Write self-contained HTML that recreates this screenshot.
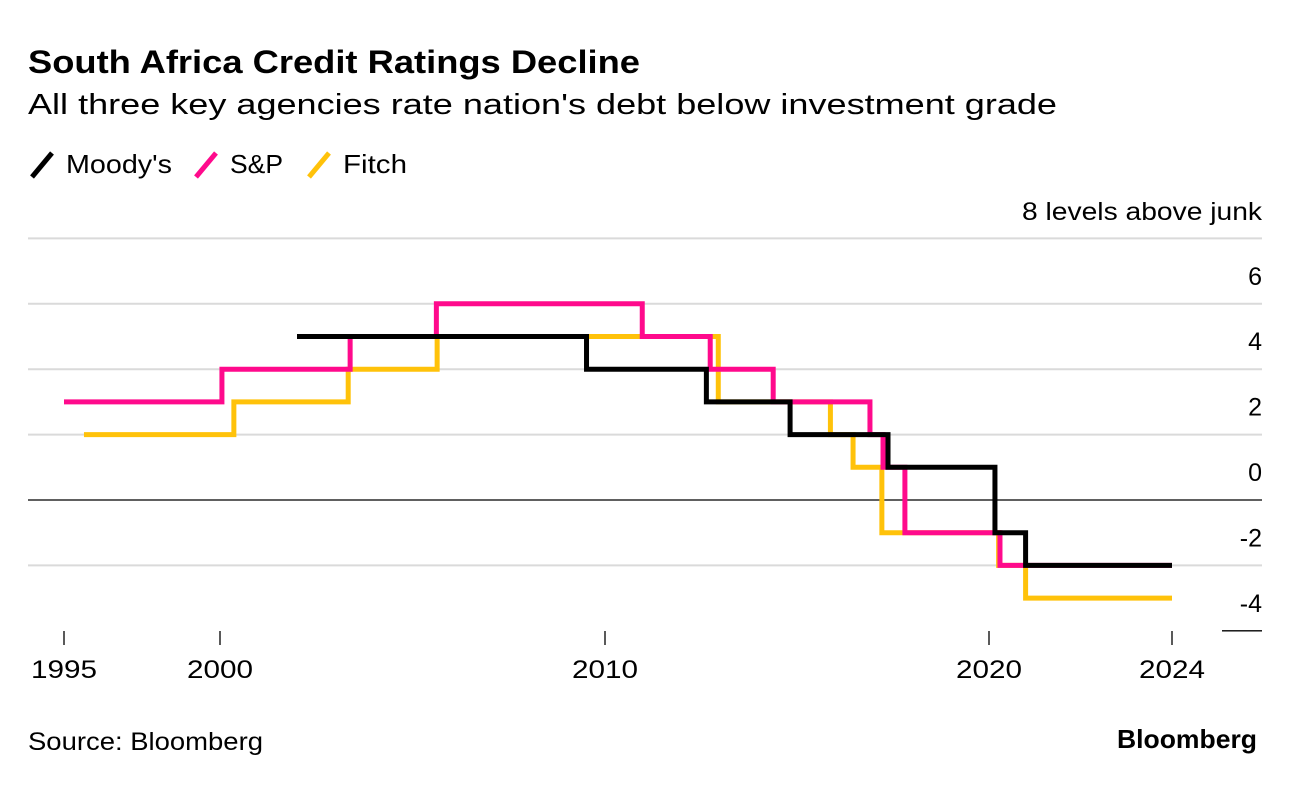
<!DOCTYPE html>
<html><head><meta charset="utf-8"><style>
body{margin:0;background:#fff;font-family:"Liberation Sans",sans-serif;}
svg text{font-family:"Liberation Sans",sans-serif;}
</style></head><body>
<svg width="1296" height="782" xmlns="http://www.w3.org/2000/svg">
<text x="28" y="73" font-size="32" font-weight="bold" fill="#000" textLength="612" lengthAdjust="spacingAndGlyphs">South Africa Credit Ratings Decline</text>
<text x="28" y="114" font-size="29" fill="#000" textLength="1029" lengthAdjust="spacingAndGlyphs">All three key agencies rate nation's debt below investment grade</text>
<g>
<g><line x1="32" y1="177" x2="52" y2="153" stroke="#000" stroke-width="5"/><text x="66" y="173" font-size="26" textLength="106" lengthAdjust="spacingAndGlyphs">Moody's</text></g>
<g><line x1="196" y1="177" x2="216" y2="153" stroke="#ff0a8c" stroke-width="5"/><text x="230" y="173" font-size="26" textLength="53" lengthAdjust="spacingAndGlyphs">S&amp;P</text></g>
<g><line x1="309" y1="177" x2="329" y2="153" stroke="#ffc20a" stroke-width="5"/><text x="343" y="173" font-size="26" textLength="64" lengthAdjust="spacingAndGlyphs">Fitch</text></g>
</g>
<text x="1262" y="220" font-size="25" text-anchor="end" textLength="240" lengthAdjust="spacingAndGlyphs">8 levels above junk</text>
<g id="grid"></g>
<g id="xaxis"></g>
<g id="series"></g>
<text x="28" y="750" font-size="25" textLength="235" lengthAdjust="spacingAndGlyphs">Source: Bloomberg</text>
<text x="1257" y="748" font-size="26" font-weight="bold" text-anchor="end" textLength="140" lengthAdjust="spacingAndGlyphs">Bloomberg</text>
</svg>
<script>
const yTicks=[8,6,4,2,0,-2,-4];
const yTickLabels=["","6","4","2","0","-2","-4"];
const xTicks=[1995,2000,2010,2020,2024];
const xTickLabels=["1995","2000","2010","2020","2024"];
const moodysYears=[2002.0,2009.52,2012.64,2014.82,2017.37,2020.13,2020.8,2024];
const moodysValues=[5,4,3,2,1,-1,-2,-2];
const spYears=[1995,2000.05,2003.38,2005.62,2010.97,2012.74,2014.38,2016.9,2017.24,2017.81,2020.24,2024];
const spValues=[3,4,5,6,5,4,3,2,1,-1,-2,-2];
const fitchYears=[1995.64,2000.36,2003.33,2005.64,2012.95,2015.87,2016.46,2017.21,2020.21,2020.8,2024];
const fitchValues=[2,3,4,5,3,2,1,-1,-2,-3,-3];

const NS="http://www.w3.org/2000/svg";
const xAnchorsYear=[1995,2000,2010,2020,2024];
const xAnchorsPx=[64,220,605,989,1172];
function x(yr){
  for(let i=0;i<xAnchorsYear.length-1;i++){
    if(yr<=xAnchorsYear[i+1]||i===xAnchorsYear.length-2){
      const a=xAnchorsYear[i],b=xAnchorsYear[i+1];
      return xAnchorsPx[i]+(yr-a)/(b-a)*(xAnchorsPx[i+1]-xAnchorsPx[i]);
    }
  }
}
function y(v){return 500-v*32.7;}
function mk(tag,attrs,parent){const e=document.createElementNS(NS,tag);for(const k in attrs)e.setAttribute(k,attrs[k]);parent.appendChild(e);return e;}

const grid=document.getElementById('grid');
yTicks.forEach((v,i)=>{
  const yy=y(v);
  let l;
  if(v===0) l=mk('line',{x1:28,x2:1262,y1:yy,y2:yy,stroke:'#000','stroke-width':1.3},grid);
  else if(v===-4) l=mk('line',{x1:1222,x2:1262,y1:yy,y2:yy,stroke:'#000','stroke-width':1.3},grid);
  else l=mk('line',{x1:28,x2:1262,y1:yy,y2:yy,stroke:'#dadada','stroke-width':2},grid);
  
  
  if(yTickLabels[i]){
    const t=mk('text',{x:1262,y:yy-19,'font-size':25,'text-anchor':'end'},grid);
    t.textContent=yTickLabels[i];
    
    
  }
});
const xa=document.getElementById('xaxis');
xTicks.forEach((yr,i)=>{
  const xx=x(yr);
  const l=mk('line',{x1:xx,x2:xx,y1:631,y2:645,stroke:'#000','stroke-width':1.3},xa);
  
  
  const t=mk('text',{x:xx,y:678,'font-size':25,'text-anchor':'middle',textLength:66,lengthAdjust:'spacingAndGlyphs'},xa);
  t.textContent=xTickLabels[i];
  
  
});
const sg=document.getElementById('series');
function step(years,vals,color,name){
  let d='M'+x(years[0])+','+y(vals[0]);
  for(let i=1;i<years.length;i++){
    d+=' H'+x(years[i])+' V'+y(vals[i]);
  }
  const p=mk('path',{d:d,fill:'none',stroke:color,'stroke-width':5,'stroke-linejoin':'miter'},sg);
  
  
}
step(fitchYears,fitchValues,'#ffc20a','fitch-line');
step(spYears,spValues,'#ff0a8c','sp-line');
step(moodysYears,moodysValues,'#000','moodys-line');
</script>
</body></html>
